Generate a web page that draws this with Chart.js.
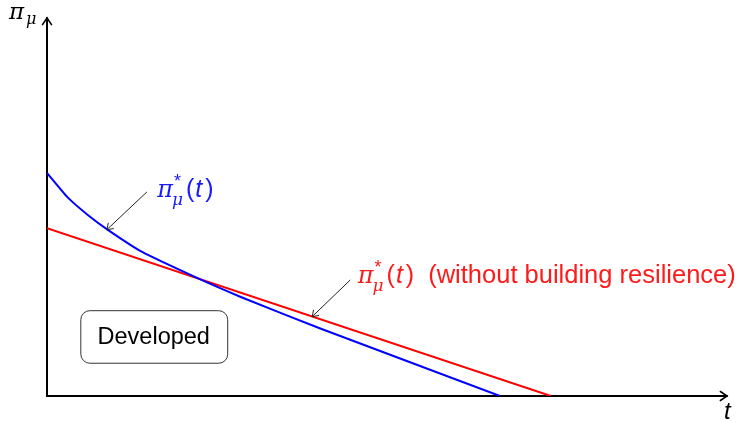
<!DOCTYPE html>
<html><head><meta charset="utf-8">
<script src="https://cdn.jsdelivr.net/npm/chart.js@4"></script>
<style>html,body{margin:0;padding:0;background:#fff}#wrap{width:741px;height:422px}</style>
</head><body><div id="wrap"><canvas id="c"></canvas></div>
<script>
// curve with building resilience
const blueT = [0, 0.3, 0.6, 0.9, 1.4, 2.15, 2.85, 4.0, 6.66];
const bluePi = [5.9, 5.26, 4.79, 4.39, 3.81, 3.17, 2.62, 1.8, 0];
// straight line without building resilience
const redT = [0, 7.41];
const redPi = [4.44, 0];
// annotation anchors (data units): [textX, textY, arrowFromX, arrowFromY, arrowToX, arrowToY]
const blueNote = [1.62, 5.26, 1.47, 5.4, 0.88, 4.4];
const redNote = [4.57, 2.98, 4.46, 3.07, 3.9, 2.1];
const boxNote = [0.49, 2.27, 2.65, 0.88]; // x1, y1, x2, y2

const SANS = '"Liberation Sans", Arial, sans-serif';
const MATH = '"DejaVu Serif", serif';

function arrowHead(ctx, x, y, ang, len) {
  ctx.beginPath();
  ctx.moveTo(x - len * Math.cos(ang - 0.6), y - len * Math.sin(ang - 0.6));
  ctx.lineTo(x, y);
  ctx.lineTo(x - len * Math.cos(ang + 0.6), y - len * Math.sin(ang + 0.6));
  ctx.stroke();
}

function piStar(ctx, x, base, color, fs) {
  ctx.fillStyle = color;
  ctx.textBaseline = 'alphabetic';
  ctx.textAlign = 'left';
  ctx.font = 'italic ' + (fs - 1) + 'px ' + MATH;
  ctx.fillText('\u03c0', x, base);
  let w = ctx.measureText('\u03c0').width;
  ctx.font = Math.round(fs * 0.72) + 'px ' + SANS;
  ctx.fillText('*', x + w + 1, base - fs * 0.4);
  ctx.font = 'italic ' + Math.round(fs * 0.66) + 'px ' + MATH;
  ctx.fillText('\u03bc', x + w - 1, base + fs * 0.3);
  let x2 = x + w + ctx.measureText('\u03bc').width + 2;
  ctx.font = fs + 'px ' + SANS;
  ctx.fillText('(', x2, base);
  x2 += ctx.measureText('(').width + 1;
  ctx.font = 'italic ' + fs + 'px ' + SANS;
  ctx.fillText('t', x2, base);
  x2 += ctx.measureText('t').width + 3;
  ctx.font = fs + 'px ' + SANS;
  ctx.fillText(')', x2, base);
  return x2 + ctx.measureText(')').width;
}

const axesPlugin = {
  id: 'axes',
  beforeDatasetsDraw(chart) {
    const ctx = chart.ctx, a = chart.chartArea;
    ctx.save();
    ctx.strokeStyle = '#000';
    ctx.lineWidth = 2;
    ctx.lineCap = 'round';
    ctx.beginPath();
    ctx.moveTo(a.left, a.top);
    ctx.lineTo(a.left, a.bottom);
    ctx.lineTo(a.right, a.bottom);
    ctx.stroke();
    ctx.lineWidth = 1.6;
    arrowHead(ctx, a.left, a.top, -Math.PI / 2, 8);
    arrowHead(ctx, a.right, a.bottom, 0, 8);
    ctx.restore();
  },
  afterDraw(chart) {
    const ctx = chart.ctx, a = chart.chartArea;
    const xs = chart.scales.x, ys = chart.scales.y;
    const px = v => xs.getPixelForValue(v), py = v => ys.getPixelForValue(v);
    ctx.save();
    // axis labels
    ctx.fillStyle = '#000';
    ctx.textAlign = 'left';
    ctx.font = 'italic 23px ' + MATH;
    ctx.fillText('\u03c0', a.left - 38, a.top + 1);
    ctx.font = 'italic 16px ' + MATH;
    ctx.fillText('\u03bc', a.left - 21, a.top + 6);
    ctx.font = 'italic 24px ' + SANS;
    ctx.fillText('t', a.right - 3, a.bottom + 23);

    // annotation arrows
    ctx.strokeStyle = '#222';
    ctx.lineWidth = 1;
    [blueNote, redNote].forEach(n => {
      const x1 = px(n[2]), y1 = py(n[3]), x2 = px(n[4]), y2 = py(n[5]);
      ctx.beginPath(); ctx.moveTo(x1, y1); ctx.lineTo(x2, y2); ctx.stroke();
      arrowHead(ctx, x2, y2, Math.atan2(y2 - y1, x2 - x1), 7);
    });
    piStar(ctx, px(blueNote[0]), py(blueNote[1]), '#1a1aff', 25);
    let e = piStar(ctx, px(redNote[0]), py(redNote[1]), '#ff1a1a', 25);
    ctx.font = '25.5px ' + SANS;
    ctx.fillStyle = '#ff1a1a';
    ctx.fillText('(without building resilience)', e + 14, py(redNote[1]));

    // Developed box
    const bx = px(boxNote[0]), by = py(boxNote[1]), bw = px(boxNote[2]) - bx, bh = py(boxNote[3]) - by;
    ctx.strokeStyle = '#333';
    ctx.lineWidth = 1;
    ctx.beginPath();
    ctx.roundRect(bx + 0.5, by + 0.5, bw, bh, 9);
    ctx.stroke();
    ctx.fillStyle = '#000';
    ctx.font = '23.5px ' + SANS;
    ctx.textAlign = 'center';
    ctx.textBaseline = 'middle';
    ctx.fillText('Developed', bx + bw / 2, by + bh / 2 + 1);
    ctx.restore();
  }
};

new Chart(document.getElementById('c'), {
  type: 'scatter',
  data: {
    datasets: [
      {
        label: 'with resilience',
        data: blueT.map((t, i) => ({x: t, y: bluePi[i]})),
        borderColor: '#0000ff',
        borderWidth: 2,
        showLine: true,
        pointRadius: 0,
        tension: 0.15
      },
      {
        label: 'without resilience',
        data: redT.map((t, i) => ({x: t, y: redPi[i]})),
        borderColor: '#ff0000',
        borderWidth: 2,
        showLine: true,
        pointRadius: 0
      }
    ]
  },
  plugins: [axesPlugin],
  options: {
    responsive: true,
    maintainAspectRatio: false,
    animation: false,
    layout: { padding: { left: 47, right: 14, top: 18, bottom: 26 } },
    plugins: { legend: { display: false }, tooltip: { enabled: false } },
    scales: {
      x: { type: 'linear', min: 0, max: 10, display: false },
      y: { type: 'linear', min: 0, max: 10, display: false }
    }
  }
});
</script>
</body></html>
